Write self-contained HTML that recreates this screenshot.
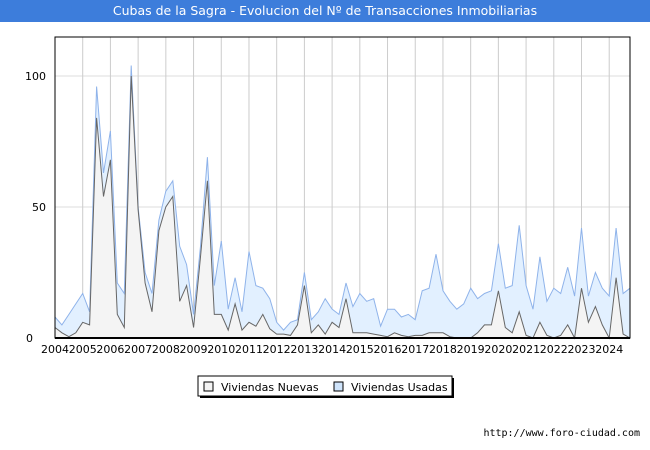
<!DOCTYPE html>
<html><head><meta charset="utf-8"><style>
body{margin:0;width:650px;height:450px;background:#fff;font-family:"DejaVu Sans","Liberation Sans",sans-serif;overflow:hidden}
#title{position:absolute;left:0;top:0;width:650px;height:22px;background:#3d7ddb;color:#fff;font-size:12.5px;line-height:22px;text-align:center}
#foot{position:absolute;right:10px;top:428px;font-size:10px;color:#000;font-family:"DejaVu Sans Mono","Liberation Mono",monospace}
text{font-family:"DejaVu Sans","Liberation Sans",sans-serif}
</style></head><body>
<div id="title">Cubas de la Sagra - Evolucion del Nº de Transacciones Inmobiliarias</div>
<svg id="chart" width="650" height="450" style="position:absolute;left:0;top:0"></svg>
<div id="foot">http://www.foro-ciudad.com</div>
<script>
const nuevas=[4,2,0.5,2,6,5,84,54,68,9,4,100,49,21,10,41,50,54,14,20,4,31,60,9,9,3,13,3,6,4.5,9,3.5,1.5,1.5,1,5,20,2,5,1.5,6,4,15,2,2,2,1.5,1,0.5,2,1,0.5,1,1,2,2,2,0.5,0,0,0,2,5,5,18,4,2,10,1,0,6,1,0,1,5,0,19,6,12,5,0,23,1.5,0];
const usadas=[8,5,9,13,17,10,96,63,79,21,17,104,50,25,17,45,56,60,35,28,9,35,69,20,37,11,23,10,33,20,19,15,6,3,6,7,25,7,10,15,11,9,21,12,17,14,15,4.5,11,11,8,9,7,18,19,32,18,14,11,13,19,15,17,18,36,19,20,43,20,11,31,14,19,17,27,16,42,16,25,19,16,42,17,19];
const xTicks=["2004","2005","2006","2007","2008","2009","2010","2011","2012","2013","2014","2015","2016","2017","2018","2019","2020","2021","2022","2023","2024"];
const yTicks=[0,50,100];
const L=55,R=630,T=37,B=338;
const X=i=>L+i*(R-L)/(nuevas.length-1);
const Y=v=>B-v*2.62;
const svg=document.getElementById('chart');
const NS='http://www.w3.org/2000/svg';
function mk(t,a,p){const e=document.createElementNS(NS,t);for(const k in a)e.setAttribute(k,a[k]);(p||svg).appendChild(e);return e;}
let e;
e=mk('rect',{x:L,y:T,width:R-L,height:B-T,fill:'#fff',stroke:'none'});

yTicks.forEach(v=>{e=mk('line',{x1:L,x2:R,y1:Y(v),y2:Y(v),stroke:'#ddd'});

if(v>0){e=mk('text',{x:L-9,y:Y(v)+4,'text-anchor':'end','font-size':11,fill:'#000'});e.textContent=v;
}});
e=mk('text',{x:L-22,y:B+4,'text-anchor':'end','font-size':11});e.textContent='0';

xTicks.forEach((t,k)=>{const x=X(k*4);
e=mk('line',{x1:x,x2:x,y1:T,y2:B,stroke:'#ccc'});

e=mk('text',{x:x,y:B+15,'text-anchor':'middle','font-size':11});e.textContent=t;
});
function area(arr,fill,stroke,name){
let d='M'+X(0)+','+B;arr.forEach((v,i)=>d+=' L'+X(i).toFixed(1)+','+Y(v).toFixed(1));d+=' L'+X(arr.length-1)+','+B+'Z';
e=mk('path',{d:d,fill:fill,stroke:'none'});

let l='';arr.forEach((v,i)=>l+=(i?' L':'M')+X(i).toFixed(1)+','+Y(v).toFixed(1));
e=mk('path',{d:l,fill:'none',stroke:stroke,'stroke-width':1});
}
area(usadas,'#e2f0ff','#8fb3ea','usadas');
area(nuevas,'#f4f4f4','#666','nuevas');
e=mk('rect',{x:L,y:T,width:R-L,height:B-T,fill:'none',stroke:'#000'});

e=mk('line',{x1:L,x2:R,y1:B,y2:B,stroke:'#000','stroke-width':2});

const g=mk('g',{});

mk('rect',{x:200,y:378,width:254,height:20,fill:'#000'},g);
mk('rect',{x:198,y:376,width:254,height:20,fill:'#fff',stroke:'#000'},g);
e=mk('rect',{x:204,y:382,width:9,height:9,fill:'#f4f4f4',stroke:'#000'},g);

e=mk('text',{x:221,y:391,'font-size':11},g);e.textContent='Viviendas Nuevas';

e=mk('rect',{x:334,y:382,width:9,height:9,fill:'#cfe4fb',stroke:'#000'},g);

e=mk('text',{x:351,y:391,'font-size':11},g);e.textContent='Viviendas Usadas';

</script>
</body></html>
